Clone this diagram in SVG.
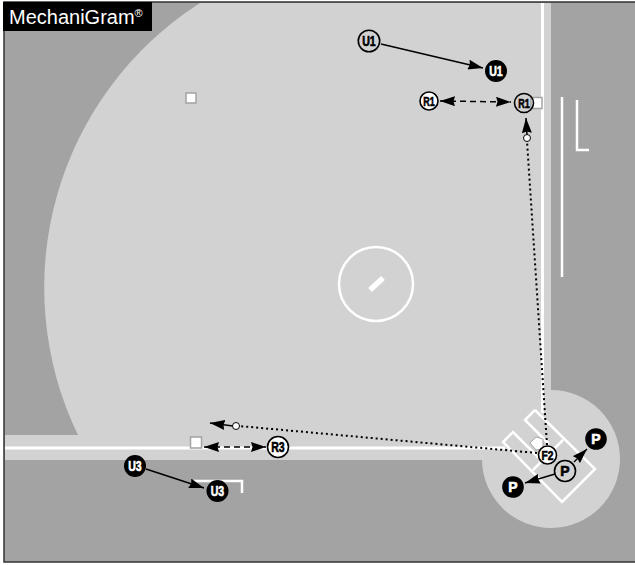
<svg xmlns="http://www.w3.org/2000/svg" width="635" height="565" viewBox="0 0 635 565">
<style>
.w{fill:none;stroke:#fff}
.base{fill:#fff;stroke:#a3a3a3;stroke-width:1.5}
.n{stroke:#000;stroke-width:1.6}
.open{fill:none}
.white{fill:#fff}
.blk{fill:#000}
.lb{font-family:"Liberation Sans",Arial,sans-serif;font-weight:700;text-anchor:middle}
.lk{fill:#000;stroke:#000;stroke-width:.6}
.lw{fill:#fff;stroke:#fff;stroke-width:.6}
.arrow{fill:none;stroke:#000;stroke-width:1.5}
.dash{stroke-dasharray:6 4}
.dot{stroke-dasharray:2 3;stroke-width:2}
.tiny{fill:#fff;stroke:#000;stroke-width:1}
</style>
<defs>
<marker id="h" markerUnits="userSpaceOnUse" markerWidth="16" markerHeight="10" refX="15" refY="5" orient="auto-start-reverse"><path d="M0,0L15,5L0,10L1.500,5Z" fill="#000"/></marker>
</defs>
<rect x="4" y="2" width="632" height="560" fill="#a3a3a3" stroke="#333" stroke-width="1.5"/>
<g id="field">
<path d="M200,3A338,338 0 0 0 78,435H5V460H482A69,69 0 1 0 551,390V3Z" fill="#d2d2d2"/>
<path class="w" stroke-width="3" d="M542.500,3V413M5,448H505"/>
<path class="w" stroke-width="2.500" d="M562,97V277"/>
<path class="w" stroke-width="2.500" d="M577,100V150H589"/>
<path class="w" stroke-width="2.500" d="M193,481H242V493"/>
<circle class="w" stroke-width="2.500" cx="376" cy="284" r="37"/>
<path class="w" stroke-width="5.500" d="M370,290L383,278"/>
<path class="w" stroke-width="2.500" d="M535,410L595,469L562,502L503,442L513,432L543,462M535,410L525,420L549,444M563,440L533,470"/>
<path d="M530,443L536,437L543,439V449L536,450Z" fill="#fff" stroke="#a3a3a3"/>
</g>
<g id="base-second"><rect class="base" x="186" y="93" width="10" height="10"/></g>
<g id="base-first"><rect class="base" x="531" y="97.500" width="11" height="11"/></g>
<g id="base-third"><rect class="base" x="190.500" y="437" width="11" height="11"/></g>
<g id="logo">
<rect x="3" y="2" width="149" height="29" fill="#000"/>
<text x="9" y="23.500" fill="#fff" font-family="'Liberation Sans',Arial,sans-serif" font-size="20">MechaniGram<tspan font-size="11" dy="-7">®</tspan></text>
</g>
<g id="connectors">
<path class="arrow" marker-end="url(#h)" d="M381,44L483,68"/>
<path class="arrow dash" marker-start="url(#h)" marker-end="url(#h)" d="M440,101L511,102"/>
<path class="arrow dash" marker-start="url(#h)" marker-end="url(#h)" d="M204,447L266,447"/>
<path class="arrow" marker-end="url(#h)" d="M146,469L204,488"/>
<path class="arrow dot" d="M547,445L527,141"/>
<path class="arrow dot" d="M537,453L239,426"/>
<path class="arrow" marker-end="url(#h)" d="M527,135L526,118"/>
<path class="arrow" marker-end="url(#h)" d="M233,426L210,423"/>
<path class="arrow" marker-end="url(#h)" d="M574,462L587,449"/>
<path class="arrow" marker-end="url(#h)" d="M555,474L525,483"/>
<circle class="tiny" cx="527" cy="138" r="3.500"/>
<circle class="tiny" cx="236" cy="426" r="3.500"/>
</g>
<g id="node-u1-start"><circle class="n open" cx="369" cy="41" r="10.700"/><text class="lb lk" x="369" y="46" font-size="14" textLength="13.500" lengthAdjust="spacingAndGlyphs">U1</text></g>
<g id="node-u1-end"><circle class="n blk" cx="496" cy="71" r="10.200"/><text class="lb lw" x="496" y="76" font-size="14" textLength="13.500" lengthAdjust="spacingAndGlyphs">U1</text></g>
<g id="node-r1-white"><circle class="n white" cx="429" cy="101" r="9"/><text class="lb lk" x="429" y="105.500" font-size="13" textLength="11.500" lengthAdjust="spacingAndGlyphs">R1</text></g>
<g id="node-r1"><circle class="n open" cx="524" cy="103" r="9.500"/><text class="lb lk" x="524" y="107.500" font-size="13" textLength="11.500" lengthAdjust="spacingAndGlyphs">R1</text></g>
<g id="node-r3"><circle class="n white" cx="278" cy="447" r="10.500"/><text class="lb lk" x="278" y="452" font-size="14" textLength="13.500" lengthAdjust="spacingAndGlyphs">R3</text></g>
<g id="node-u3-start"><circle class="n blk" cx="135" cy="466" r="10.200"/><text class="lb lw" x="135" y="471" font-size="14" textLength="13.500" lengthAdjust="spacingAndGlyphs">U3</text></g>
<g id="node-u3-end"><circle class="n blk" cx="217.500" cy="491" r="10.200"/><text class="lb lw" x="217.500" y="496" font-size="14" textLength="13.500" lengthAdjust="spacingAndGlyphs">U3</text></g>
<g id="node-f2"><circle class="n white" cx="547.500" cy="455" r="9"/><text class="lb lk" x="547.500" y="460" font-size="13.500" textLength="12" lengthAdjust="spacingAndGlyphs">F2</text></g>
<g id="node-p-open"><circle class="n open" cx="565" cy="471" r="10.500"/><text class="lb lk" x="565" y="476" font-size="14">P</text></g>
<g id="node-p-right"><circle class="n blk" cx="596" cy="439" r="10"/><text class="lb lw" x="596" y="444" font-size="14">P</text></g>
<g id="node-p-left"><circle class="n blk" cx="513" cy="487" r="10"/><text class="lb lw" x="513" y="492" font-size="14">P</text></g>
</svg>
